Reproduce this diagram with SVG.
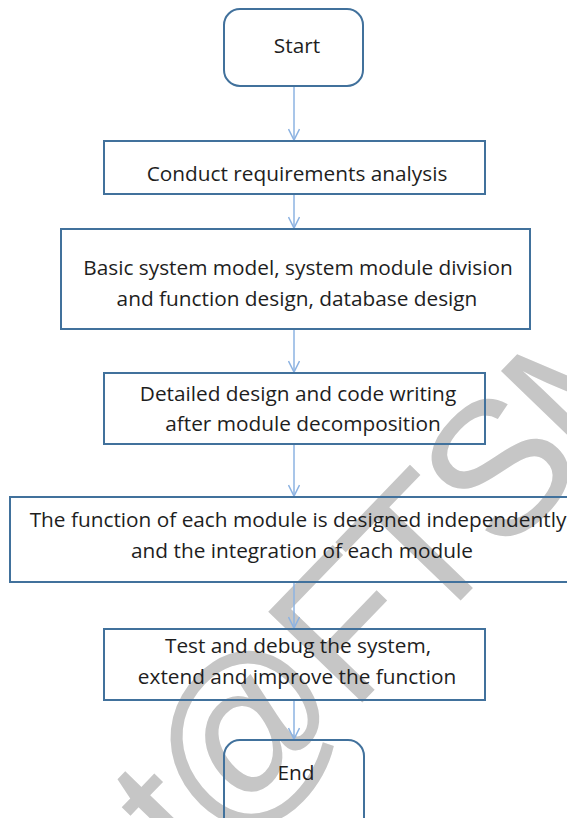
<svg xmlns="http://www.w3.org/2000/svg" width="567" height="818" viewBox="0 0 567 818">
<defs>
<style>
.box{fill:none;stroke:#41719c;stroke-width:2}
.t{font-family:"Open Sans","Liberation Sans",Arial,sans-serif;font-size:20.8px;fill:#1e1e1e;text-anchor:middle}
.c{stroke:#8db3e2;stroke-width:1.5;fill:none}
.wm{font-family:"Liberation Sans",Arial,sans-serif;font-size:190px;letter-spacing:-8px;fill:#c6c6c6}
</style>
<marker id="ah" markerWidth="14" markerHeight="12" refX="12" refY="6" orient="auto" markerUnits="userSpaceOnUse">
<path d="M1,0.5 L12,6 L1,11.5" fill="none" stroke="#8db3e2" stroke-width="1.5"/>
</marker>
</defs>
<rect width="567" height="818" fill="#fff"/>
<text class="wm" x="192" y="879" transform="rotate(-46 192 879)">t@FTSM</text>
<g id="connectors">
<line class="c" x1="294" y1="86" x2="294" y2="140" marker-end="url(#ah)"/>
<line class="c" x1="294" y1="194" x2="294" y2="228" marker-end="url(#ah)"/>
<line class="c" x1="294" y1="330" x2="294" y2="372" marker-end="url(#ah)"/>
<line class="c" x1="294" y1="445" x2="294" y2="496" marker-end="url(#ah)"/>
<line class="c" x1="294" y1="583" x2="294" y2="628" marker-end="url(#ah)"/>
<line class="c" x1="294" y1="701" x2="294" y2="739" marker-end="url(#ah)"/>
</g>
<g id="start">
<rect class="box" x="224" y="9" width="139" height="77" rx="16"/>
<text class="t" x="297" y="53">Start</text>
</g>
<g id="requirements">
<rect class="box" x="104" y="141" width="381" height="53"/>
<text class="t" x="297" y="181">Conduct requirements analysis</text>
</g>
<g id="basic-design">
<rect class="box" x="61" y="229" width="469" height="100"/>
<text class="t" x="298" y="275">Basic system model, system module division</text>
<text class="t" x="297" y="306">and function design, database design</text>
</g>
<g id="detailed-design">
<rect class="box" x="104" y="373" width="381" height="71"/>
<text class="t" x="298" y="401">Detailed design and code writing</text>
<text class="t" x="303" y="431">after module decomposition</text>
</g>
<g id="integration">
<rect class="box" x="10" y="497" width="570" height="85"/>
<text class="t" x="298" y="527">The function of each module is designed independently</text>
<text class="t" x="302" y="558">and the integration of each module</text>
</g>
<g id="test">
<rect class="box" x="104" y="629" width="381" height="71"/>
<text class="t" x="298" y="653">Test and debug the system,</text>
<text class="t" x="297" y="684">extend and improve the function</text>
</g>
<g id="end">
<rect class="box" x="224" y="740" width="140" height="100" rx="16"/>
<text class="t" x="296" y="780">End</text>
</g>
</svg>
